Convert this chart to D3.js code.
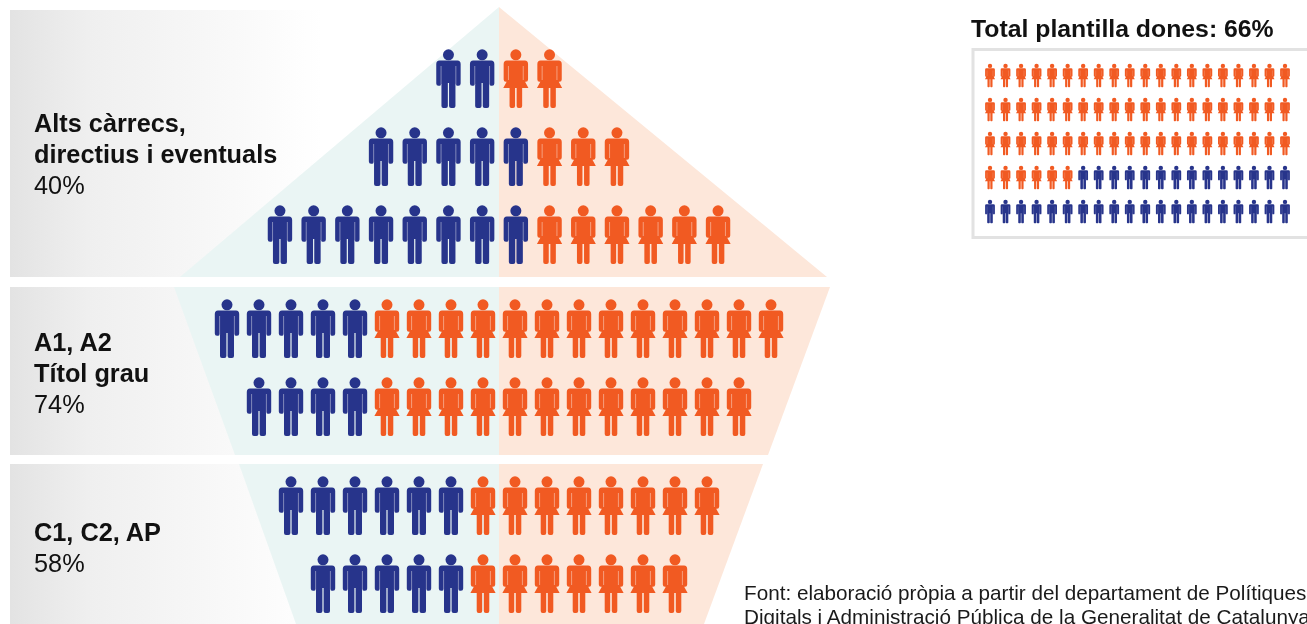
<html>
<head>
  <meta charset="utf-8" />
  <script src="https://cdnjs.cloudflare.com/ajax/libs/d3/7.8.5/d3.min.js"></script>
  <style>
    html, body { margin: 0; padding: 0; background: #fff; overflow: hidden; }
    svg { display: block; font-family: "Liberation Sans", Arial, sans-serif; filter: blur(0.45px); }
  </style>
</head>
<body>
  <svg id="chart" width="1307" height="624"></svg>
  <script>
    // pictogram rows, top to bottom (one figure = one slot)
    const rowGroup = [0, 0, 0, 1, 1, 2, 2]
    const rowMen = [2, 5, 8, 5, 4, 6, 5]
    const rowWomen = [2, 3, 6, 13, 12, 8, 7]

    const groupNames = [["Alts càrrecs,", "directius i eventuals"], ["A1, A2", "Títol grau"], ["C1, C2, AP"]]
    const groupShares = ["40%", "74%", "58%"]

    const totalWomen = 66
    const totalFigures = 100
    const totalTitle = "Total plantilla dones: 66%"
    const sourceLines = ["Font: elaboració pròpia a partir del departament de Polítiques",
                         "Digitals i Administració Pública de la Generalitat de Catalunya"]

    const blue = "#27348b", orange = "#f15a22"
    const svg = d3.select("#chart")

    // figures are drawn in a 58 high box, x = 0 in the middle
    const manPath = "M-9,10.4H9Q12.2,10.4 12.2,14V33.5Q12.2,35.8 10,35.8Q7,35.8 7,33.5V56Q7,58 5,58H2.6Q0.6,58 0.6,56V33H-0.6V56Q-0.6,58 -2.6,58H-5Q-7,58 -7,56V33.5Q-7,35.8 -10,35.8Q-12.2,35.8 -12.2,33.5V14Q-12.2,10.4 -9,10.4Z"
    const womanPath = "M-9,10.4H9Q12.2,10.4 12.2,14V29.5Q12.2,31.8 10,31.8H9.2L12.6,38H6.3V56Q6.3,58 4.4,58H2.8Q0.8,58 0.8,56V38H-0.8V56Q-0.8,58 -2.8,58H-4.4Q-6.3,58 -6.3,56V38H-12.6L-9.2,31.8H-10Q-12.2,31.8 -12.2,29.5V14Q-12.2,10.4 -9,10.4Z"

    function figure(parent, x, y, k, isWoman) {
      const g = parent.append("g")
        .attr("transform", `translate(${x},${y}) scale(${k})`)
        .attr("fill", isWoman ? orange : blue)
      g.append("circle").attr("cx", 0).attr("cy", 4.8).attr("r", 5.5)
      g.append("path").attr("d", isWoman ? womanPath : manPath)
      // thin pale slit between arm and body
      const slitEnd = isWoman ? 30 : 35
      g.append("path").attr("d", `M-7.4,16V${slitEnd}M7.4,16V${slitEnd}`)
        .attr("fill", "none").attr("stroke", "#fff").attr("stroke-opacity", 0.6).attr("stroke-width", 0.7)
    }

    // gradients
    const defs = svg.append("defs")
    const grey = defs.append("linearGradient").attr("id", "greyFade")
    grey.append("stop").attr("offset", 0).attr("stop-color", "#e3e3e3")
    grey.append("stop").attr("offset", 0.25).attr("stop-color", "#efefef")
    grey.append("stop").attr("offset", 1).attr("stop-color", "#ffffff")

    // panels
    const panels = [
      { top: 10, bottom: 277, topL: 499, topR: 499, botL: 180, botR: 827, apex: 7 },
      { top: 287, bottom: 455, topL: 174, topR: 830, botL: 235, botR: 768 },
      { top: 464, bottom: 624, topL: 239, topR: 763, botL: 296, botR: 704 }
    ]
    const midX = 499
    panels.forEach(p => {
      svg.append("rect").attr("x", 10).attr("y", p.top).attr("width", 312).attr("height", p.bottom - p.top)
        .attr("fill", "url(#greyFade)")
      const top = p.apex === undefined ? p.top : p.apex
      svg.append("polygon").attr("fill", "#eaf5f4")
        .attr("points", [[p.topL, top], [midX, top], [midX, p.bottom], [p.botL, p.bottom]].join(" "))
      svg.append("polygon").attr("fill", "#fde7da")
        .attr("points", [[midX, top], [p.topR, top], [p.botR, p.bottom], [midX, p.bottom]].join(" "))
    })

    // rows
    const rowTop = d3.scaleOrdinal().domain(d3.range(7)).range([50, 128, 206, 300, 378, 477, 555])
    const slotStep = d3.scaleOrdinal().domain([0, 1, 2]).range([33.7, 32, 32])

    rowMen.forEach((men, r) => {
      const total = men + rowWomen[r]
      const x = d3.scaleLinear().domain([-0.5, total - 0.5])
        .range([midX - slotStep(rowGroup[r]) * total / 2, midX + slotStep(rowGroup[r]) * total / 2])
      d3.range(total).forEach(i => figure(svg, x(i), rowTop(r), 1, i >= men))
    })

    // group labels
    const labelY = d3.scaleOrdinal().domain([0, 1, 2]).range([132, 351, 541])
    groupNames.forEach((lines, g) => {
      const t = svg.append("text").attr("x", 34).attr("font-size", 25.3).attr("fill", "#111")
      lines.forEach((line, i) => {
        t.append("tspan").attr("x", 34).attr("y", labelY(g) + i * 31).attr("font-weight", "bold").text(line)
      })
      t.append("tspan").attr("x", 34).attr("y", labelY(g) + lines.length * 31).text(groupShares[g])
    })

    // total box
    svg.append("text").attr("x", 971).attr("y", 37).attr("font-size", 24.8).attr("font-weight", "bold")
      .attr("fill", "#111").text(totalTitle)
    svg.append("rect").attr("x", 973).attr("y", 49.5).attr("width", 340).attr("height", 188)
      .attr("fill", "#fff").attr("stroke", "#e2e2e2").attr("stroke-width", 3)

    const perRow = totalFigures / 5
    const gridX = d3.scalePoint().domain(d3.range(perRow)).range([990, 1285])
    const gridY = d3.scalePoint().domain(d3.range(5)).range([64, 200])
    d3.range(totalFigures).forEach(i => {
      figure(svg, gridX(i % perRow), gridY(Math.floor(i / perRow)), 0.4, i < totalWomen)
    })

    // source, the last line runs off the bottom as in the original
    sourceLines.forEach((line, i) => {
      svg.append("text").attr("x", 744).attr("y", 600 + i * 24).attr("font-size", 20.7)
        .attr("fill", "#1a1a1a").text(line)
    })
  </script>
</body>
</html>
